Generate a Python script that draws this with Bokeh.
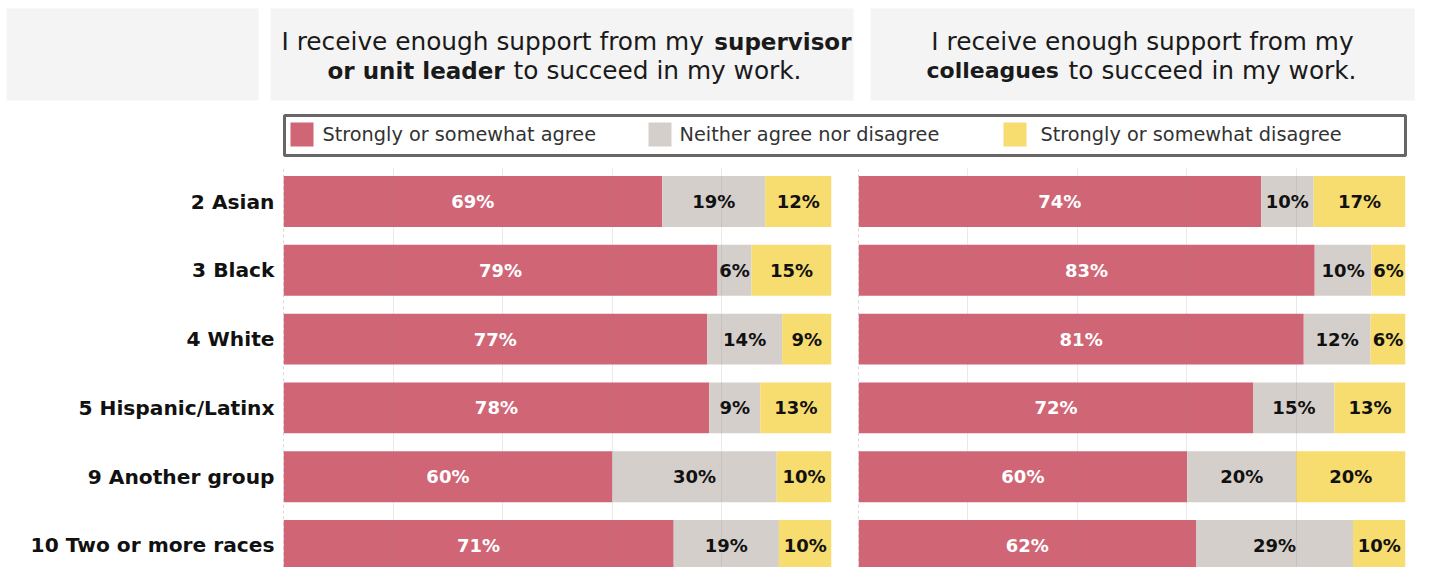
import numpy as np
from bokeh.plotting import figure
from bokeh.layouts import column, row
from bokeh.models import Range1d, FixedTicker, Span, Grid, ColumnDataSource
from bokeh.core.properties import value
from bokeh.embed import file_html
from bokeh.resources import INLINE

# ---------------- data ----------------
groups = ["2 Asian", "3 Black", "4 White", "5 Hispanic/Latinx",
          "9 Another group", "10 Two or more races"]
categories = ["Strongly or somewhat agree", "Neither agree nor disagree",
              "Strongly or somewhat disagree"]

supervisor_agree = [69.1, 79.2, 77.3, 77.7, 60.0, 71.2]
supervisor_neither = [18.8, 6.2, 13.7, 9.3, 30.0, 19.2]
supervisor_disagree = [12.1, 14.6, 9.0, 13.0, 10.0, 9.6]

colleagues_agree = [73.6, 83.4, 81.4, 72.2, 60.1, 61.7]
colleagues_neither = [9.6, 10.4, 12.2, 14.8, 19.9, 28.7]
colleagues_disagree = [16.8, 6.2, 6.4, 13.0, 20.0, 9.6]

# ---------------- style ----------------
COLORS = ["#d06576", "#d5cfcb", "#f7dc6f"]
LABEL_COLORS = ["white", "#111111", "#111111"]
FONT = value("DejaVu Sans")
HEADER_BG = "#f4f4f4"

# ---------------- header (titles + legend) ----------------
hdr = figure(width=1427, height=168, x_range=Range1d(0, 1427), y_range=Range1d(168, 0),
             toolbar_location=None, output_backend="svg", min_border=0,
             x_axis_location=None, y_axis_location=None, outline_line_color=None)
hdr.grid.visible = False
hdr.quad(left=[6, 270, 870], right=[258, 853, 1414], top=[8, 8, 8], bottom=[100, 100, 100],
         fill_color=HEADER_BG, line_color=None)

def htext(x, y, t, bold, align, size=None):
    hdr.text(x=[x], y=[y], text=[t], text_font=FONT,
             text_font_size=size or ("23px" if bold else "24.8px"),
             text_font_style="bold" if bold else "normal", text_align=align,
             text_baseline="middle", text_color="#1a1a1a")

# panel 1 title
htext(281, 41, "I receive enough support from my", False, "left")
htext(851, 41, "supervisor", True, "right")
htext(327, 70, "or unit leader", True, "left")
htext(801, 70, "to succeed in my work.", False, "right")
# panel 2 title
htext(1142, 41, "I receive enough support from my", False, "center")
htext(926, 70, "colleagues", True, "left", "22px")
htext(1356, 70, "to succeed in my work.", False, "right")

# legend
hdr.quad(left=[284], right=[1405], top=[115], bottom=[155], fill_color="white",
         line_color="#666666", line_width=3)
sw_x = [290, 648, 1003]
hdr.quad(left=sw_x, right=[x + 23 for x in sw_x], top=[122] * 3, bottom=[146] * 3,
         fill_color=COLORS, line_color=None)
hdr.text(x=[322, 679, 1040], y=[134] * 3, text=categories, text_font=FONT,
         text_font_size="19.3px", text_color="#333333", text_align="left",
         text_baseline="middle")

# ---------------- panels ----------------
def panel(series, width, left_border, right_border, show_labels):
    p = figure(width=width, height=399, x_range=Range1d(0, 100), y_range=Range1d(5.32, -0.48),
               toolbar_location=None, output_backend="svg",
               min_border_left=left_border, min_border_right=right_border,
               min_border_top=0, min_border_bottom=0,
               x_axis_location=None, y_axis_location="left" if show_labels else None,
               outline_line_color=None)
    p.grid.visible = False
    rows = np.arange(len(groups))
    vals = np.array(series, dtype=float)
    rights = np.cumsum(vals, axis=0)
    lefts = rights - vals
    for k in range(len(series)):
        src = ColumnDataSource(dict(y=rows, left=lefts[k], right=rights[k],
                                    xc=(lefts[k] + rights[k]) / 2,
                                    lab=[f"{round(v)}%" for v in vals[k]]))
        p.hbar(y="y", left="left", right="right", height=0.74, source=src,
               fill_color=COLORS[k], line_color=None)
        p.text(x="xc", y="y", text="lab", source=src, text_font=FONT,
               text_font_size="18px", text_font_style="bold", text_color=LABEL_COLORS[k],
               text_align="center", text_baseline="middle")
    p.add_layout(Grid(dimension=0, ticker=FixedTicker(ticks=[20, 40, 60, 80, 100]),
                      grid_line_color="#888888", grid_line_alpha=0.18, level="overlay"))
    p.add_layout(Span(location=0, dimension="height", line_color="#b0b0b0",
                      line_dash="3 3", line_width=1))
    if show_labels:
        ax = p.yaxis[0]
        ax.ticker = FixedTicker(ticks=list(range(len(groups))))
        ax.major_label_overrides = {i: g for i, g in enumerate(groups)}
        ax.major_label_text_font = "DejaVu Sans"
        ax.major_label_text_font_size = "20.2px"
        ax.major_label_text_font_style = "bold"
        ax.major_label_text_color = "#111111"
        ax.axis_line_color = None
        ax.major_tick_line_color = None
        ax.minor_tick_line_color = None
        ax.major_tick_out = 0
        ax.major_label_standoff = 9
    return p

p1 = panel([supervisor_agree, supervisor_neither, supervisor_disagree], 845, 283, 14, True)
p2 = panel([colleagues_agree, colleagues_neither, colleagues_disagree], 582, 13, 22, False)

layout = column(hdr, row(p1, p2))
open("out.html", "w").write(file_html(layout, INLINE))
